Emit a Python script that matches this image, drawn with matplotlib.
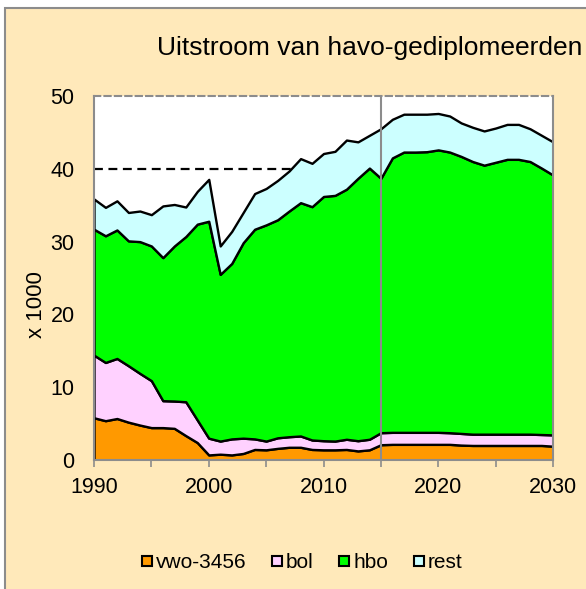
import matplotlib.pyplot as plt
import matplotlib.patches as mpatches
from matplotlib.lines import Line2D
import numpy as np

plt.rcParams['font.family'] = ['Liberation Sans', 'DejaVu Sans']

years = np.arange(1990, 2031)

vwo = [5.8, 5.4, 5.7, 5.2, 4.8, 4.45, 4.45, 4.35, 3.35, 2.4,
       0.7, 0.8, 0.7, 0.9, 1.45, 1.4, 1.6, 1.75, 1.75, 1.45,
       1.4, 1.4, 1.45, 1.25, 1.4, 2.1, 2.15, 2.15, 2.15, 2.15,
       2.15, 2.15, 2.05, 2.0, 2.0, 2.0, 2.0, 2.0, 2.0, 2.0, 1.9]
bol = [8.6, 8.0, 8.25, 7.75, 7.1, 6.45, 3.7, 3.75, 4.65, 3.1,
       2.3, 1.8, 2.2, 2.1, 1.45, 1.2, 1.45, 1.45, 1.55, 1.3,
       1.25, 1.2, 1.4, 1.4, 1.45, 1.65, 1.65, 1.65, 1.65, 1.65,
       1.65, 1.6, 1.6, 1.55, 1.55, 1.55, 1.55, 1.55, 1.55, 1.5, 1.55]
hbo = [17.3, 17.4, 17.65, 17.15, 18.1, 18.5, 19.65, 21.3, 22.7, 26.9,
       29.8, 22.9, 24.1, 26.85, 28.8, 29.7, 29.95, 31.0, 32.05, 32.05,
       33.55, 33.75, 34.35, 36.05, 37.25, 34.95, 37.7, 38.5, 38.5, 38.55,
       38.8, 38.55, 38.05, 37.45, 36.95, 37.35, 37.75, 37.75, 37.45, 36.6, 35.7]
rest = [4.15, 3.9, 4.0, 3.9, 4.2, 4.3, 7.1, 5.7, 4.05, 4.5,
        5.75, 3.9, 4.4, 4.15, 4.9, 5.0, 5.4, 5.5, 6.05, 5.95,
        5.9, 6.05, 6.75, 5.0, 4.5, 6.8, 5.3, 5.2, 5.2, 5.15,
        5.0, 4.95, 4.6, 4.7, 4.7, 4.7, 4.8, 4.8, 4.5, 4.5, 4.55]

labels = ['vwo-3456', 'bol', 'hbo', 'rest']
colors = ['#FF9900', '#FFD1FF', '#00FF00', '#CCFFFF']
bg = '#FFE9BA'
grey = '#8C8C8C'

fig = plt.figure(figsize=(5.86, 5.89), dpi=100, facecolor='white')
fig.patches.append(mpatches.Rectangle((5 / 586, -0.05), 1.0, 0.05 + (589 - 8) / 589,
                                      transform=fig.transFigure, facecolor=bg,
                                      edgecolor=grey, linewidth=1.5, zorder=-10))

ax = fig.add_axes([94 / 586, 1 - 460 / 589, 459 / 586, 364 / 589])
ax.set_facecolor('white')

ax.axhline(40, color='black', linestyle=(0, (4, 2.5)), linewidth=1.6, zorder=1)
polys = ax.stackplot(years, vwo, bol, hbo, rest, colors=colors, labels=labels,
                     edgecolor='black', linewidth=1.7, zorder=2)
ax.axvline(2015, color=grey, linewidth=1.5, zorder=3)

sec = ax.secondary_yaxis(0.625)
sec.set_yticks([0, 10, 20, 30, 40, 50])
sec.tick_params(axis='y', length=4, width=1.2, color=grey, labelleft=False,
                labelright=False, direction='out', left=True, right=False)
sec.spines[:].set_visible(False)

ax.set_xlim(1990, 2030)
ax.set_ylim(0, 50)
ax.set_xticks(np.arange(1990, 2031, 5))
ax.set_xticklabels([str(y) if y % 10 == 0 else '' for y in range(1990, 2031, 5)])
ax.set_yticks([0, 10, 20, 30, 40, 50])
ax.tick_params(axis='x', length=5, width=1.2, color=grey, labelsize=15.5, pad=7)
ax.tick_params(axis='y', length=0, labelsize=15.5, pad=14)

for side in ['left', 'bottom', 'right']:
    ax.spines[side].set_color(grey)
    ax.spines[side].set_linewidth(1.5)
ax.spines['top'].set_color(grey)
ax.spines['top'].set_linewidth(1.5)
ax.spines['top'].set_linestyle((0, (3, 2)))
ax.spines[:].set_zorder(4)

fig.text(370 / 586, 1 - 48 / 589, 'Uitstroom van havo-gediplomeerden',
         ha='center', va='center', fontsize=19)
fig.text(36 / 586, 1 - 305 / 589, 'x 1000', ha='center', va='center',
         rotation=90, fontsize=16)

handles = [Line2D([], [], linestyle='none', marker='s', markersize=7.5,
                  markerfacecolor=c, markeredgecolor='black', markeredgewidth=1.5)
           for c in colors]
fig.legend(handles, labels, loc='center', bbox_to_anchor=(302 / 586, 1 - 563 / 589),
           ncol=4, frameon=False, fontsize=15, handlelength=0.5,
           handletextpad=0.2, columnspacing=1.2)

fig.savefig('out.png', dpi=100, facecolor=fig.get_facecolor())
